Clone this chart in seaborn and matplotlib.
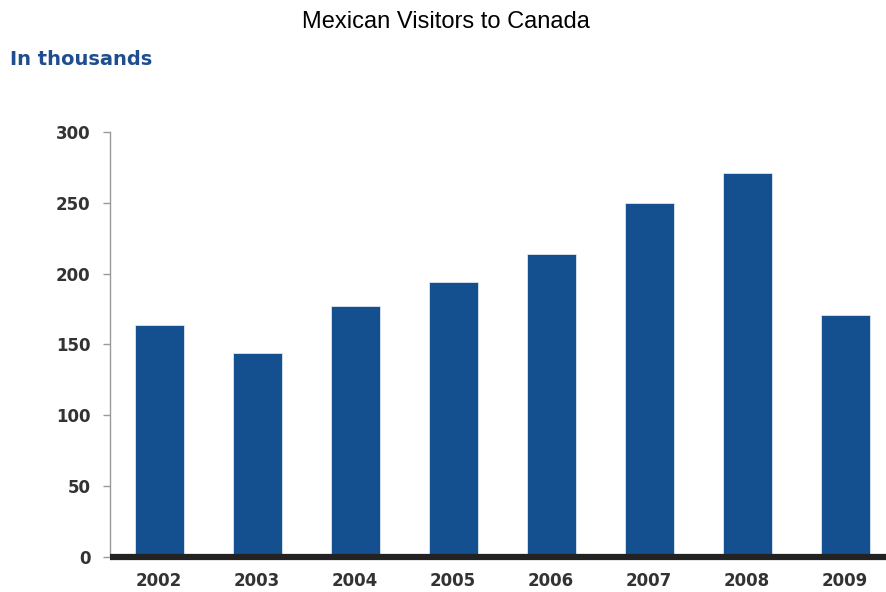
import numpy as np
import pandas as pd
import seaborn as sns
import matplotlib
matplotlib.use('Agg')
import matplotlib.pyplot as plt

# data (thousands of visitors)
years = ['2002', '2003', '2004', '2005', '2006', '2007', '2008', '2009']
visitors = [164, 144, 177, 194, 214, 250, 271, 171]
y_ticks = [0, 50, 100, 150, 200, 250, 300]

bar_color = '#14508F'
text_color = '#333333'

df = pd.DataFrame({'Year': years, 'Visitors': visitors})

sns.set_theme(style='white')
plt.rcParams['font.family'] = ['DejaVu Sans']

fig = plt.figure(figsize=(8.86, 5.92), dpi=100)
ax = fig.add_axes([0.1242, 0.0591, 0.885, 0.718])

sns.barplot(data=df, x='Year', y='Visitors', color=bar_color, width=0.5,
            saturation=1, edgecolor='#dfe6ef', linewidth=0.6, ax=ax)

ax.set_xlim(-0.5, len(years) - 0.5)
ax.set_ylim(0, 300)
ax.set_yticks(y_ticks)
ax.set_xlabel('')
ax.set_ylabel('')

for side in ['top', 'right']:
    ax.spines[side].set_visible(False)
ax.spines['left'].set_color('#999999')
ax.spines['left'].set_linewidth(1.0)
ax.spines['bottom'].set_color('#222222')
ax.spines['bottom'].set_linewidth(4.5)
ax.spines['bottom'].set_capstyle('butt')

ax.tick_params(axis='y', which='both', left=True, length=5, width=1, color='#999999',
               pad=9, labelsize=12, labelcolor=text_color)
ax.tick_params(axis='x', which='both', bottom=False, pad=5, labelsize=12, labelcolor=text_color)
for lab in ax.get_xticklabels() + ax.get_yticklabels():
    lab.set_fontweight('bold')

fig.text(0.503, 0.962, 'Mexican Visitors to Canada', ha='center', va='center',
         fontsize=17, color='black', family=['Liberation Sans', 'DejaVu Sans'])
fig.text(0.011, 0.899, 'In thousands', ha='left', va='center', fontsize=14,
         fontweight='bold', color='#1F4E8E', family=['DejaVu Sans'])

fig.savefig('out.png', dpi=100)
